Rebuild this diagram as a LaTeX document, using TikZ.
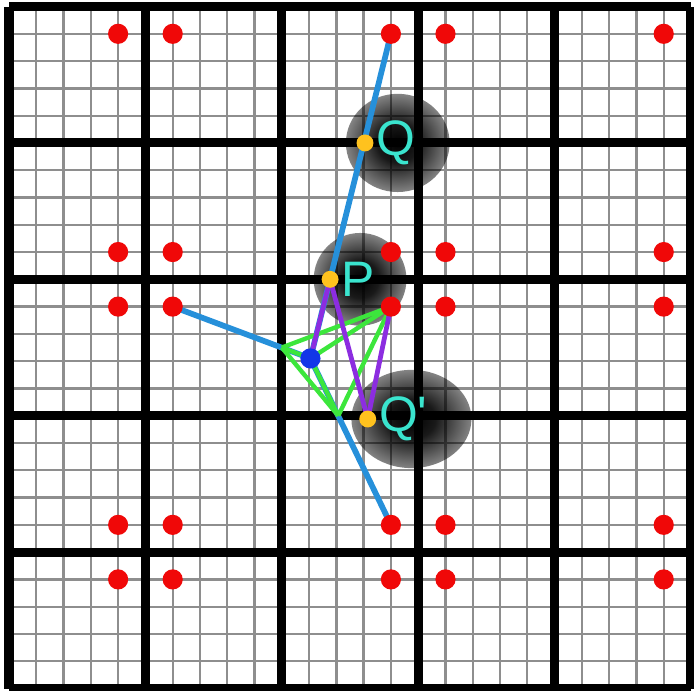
\documentclass[tikz,border=0pt]{standalone}
\usepackage{fontspec}
\setmainfont{Liberation Sans}
\usetikzlibrary{fadings}
\definecolor{gridgray}{HTML}{8E8E8E}
\definecolor{texelred}{HTML}{F00808}
\definecolor{rayblue}{HTML}{2690DA}
\definecolor{edgegreen}{HTML}{3CE63C}
\definecolor{edgepurple}{HTML}{8C2DE0}
\definecolor{hitgold}{HTML}{FFC21E}
\definecolor{sampleblue}{HTML}{1236E8}
\definecolor{labelcyan}{HTML}{3AE4CE}

\pgfdeclareradialshading{glowshading}{\pgfpointorigin}{color(0bp)=(white); color(10bp)=(white!90!black); color(28bp)=(white!40!black); color(50bp)=(black)}
\pgfdeclarefading{glowfading}{\pgfuseshading{glowshading}}

\begin{document}
\begin{tikzpicture}[x=0.5cm, y=0.5cm,
    finegrid/.style={draw=gridgray, line width=1.2pt},
    coarsegrid/.style={draw=black, line width=4.7pt},
    ray/.style={draw=rayblue, line width=3pt},
    greenedge/.style={draw=edgegreen, line width=2.3pt},
    purpleedge/.style={draw=edgepurple, line width=2.5pt},
    glow/.style={fill=black, path fading=glowfading},
    ptlabel/.style={text=labelcyan, font=\fontsize{26}{26}\selectfont, inner sep=0pt, anchor=west}]
    \useasboundingbox (-0.33,-0.07) rectangle (25.11,25.24);

    % texel centres
    \foreach \i in {4,6,14,16,24}
      \foreach \j in {4,6,14,16,24}
        \coordinate (t\i-\j) at (\i,\j);
    \coordinate (B) at (11.05,12.1);
    \coordinate (Q) at (13.05,20);
    \coordinate (P) at (11.77,15);
    \coordinate (Qp) at (13.15,9.88);
    \coordinate (L) at (10,12.5);
    \coordinate (M) at (12.07,10);

    \draw[finegrid, step=0.5cm] (0,0) grid (25,25);
    \draw[coarsegrid, step=2.5cm] (0,0) grid (25,25);

    % label glows
    \fill[glow] ([xshift=0.6cm]Q) ellipse [x radius=0.95cm, y radius=0.9cm];
    \fill[glow] ([xshift=0.55cm]P) ellipse [x radius=0.85cm, y radius=0.85cm];
    \fill[glow] ([xshift=0.8cm]Qp) ellipse [x radius=1.1cm, y radius=0.9cm];

    \draw[ray] (B) -- (t14-24);
    \draw[ray] (B) -- (t6-14);
    \draw[ray] (B) -- (t14-6);

    \draw[greenedge] (L) -- (t14-14);
    \draw[greenedge] (B) -- (t14-14);
    \draw[greenedge] (L) -- (B);
    \draw[greenedge] (L) -- (M);
    \draw[greenedge] (B) -- (M);
    \draw[greenedge] (t14-14) -- (M);

    \draw[purpleedge] (P) -- (B);
    \draw[purpleedge] (P) -- (Qp);
    \draw[purpleedge] (t14-14) -- (Qp);

    \foreach \i in {4,6,14,16,24}
      \foreach \j in {4,6,14,16,24}
        \fill[texelred] (t\i-\j) circle (0.37);
    \fill[sampleblue] (B) circle (0.37);
    \fill[hitgold] (Q) circle (0.31);
    \fill[hitgold] (P) circle (0.31);
    \fill[hitgold] (Qp) circle (0.31);

    \node[ptlabel] (lblQ) at ([xshift=0.2cm]Q) {Q};
    \node[ptlabel] (lblP) at ([xshift=0.2cm]P) {P};
    \node[ptlabel] (lblQp) at ([xshift=0.2cm]Qp) {Q\textquotesingle};
\end{tikzpicture}
\end{document}
